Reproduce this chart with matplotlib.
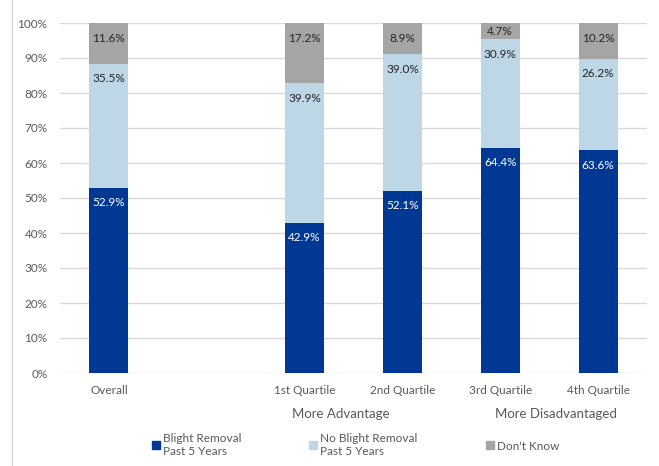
import numpy as np
import matplotlib.pyplot as plt
from matplotlib.lines import Line2D

plt.rcParams["font.family"] = ["Lato", "DejaVu Sans"]

# categories (empty slot between Overall and the quartiles)
categories = ["Overall", "", "1st Quartile", "2nd Quartile", "3rd Quartile", "4th Quartile"]
removal = [52.9, np.nan, 42.9, 52.1, 64.4, 63.6]
no_removal = [35.5, np.nan, 39.9, 39.0, 30.9, 26.2]
dont_know = [11.6, np.nan, 17.2, 8.9, 4.7, 10.2]
series_names = ["Blight Removal\nPast 5 Years", "No Blight Removal\nPast 5 Years", "Don't Know"]
series_colors = ["#003893", "#bdd7e7", "#a5a5a5"]
label_colors = ["white", "#262626", "#262626"]
groups = ["More Advantage", "More Disadvantaged"]
group_pos = [2.37, 4.57]

W, H = 659, 466
fig = plt.figure(figsize=(W / 100, H / 100), dpi=100)
ax = fig.add_axes([60 / W, (H - 373) / H, 587 / W, 350 / H])

x = np.arange(len(categories))
bottom = np.zeros(len(categories))
px_per_pct = 350 / 100
for vals, col, lcol in zip([removal, no_removal, dont_know], series_colors, label_colors):
    vals = np.array(vals, dtype=float)
    ax.bar(x, np.nan_to_num(vals), 0.4, bottom=bottom, color=col, zorder=2)
    for xi, b, v in zip(x, bottom, vals):
        if np.isnan(v):
            continue
        top = b + v
        off = min(15 / px_per_pct, v / 2)
        ax.text(xi, top - off, f"{v:.1f}%", ha="center", va="center",
                color=lcol, fontsize=8.5)
    bottom = bottom + np.nan_to_num(vals)

ax.set_xlim(-0.5, len(categories) - 0.5)
ax.set_ylim(0, 100)
ax.set_yticks(np.arange(0, 101, 10))
ax.set_yticklabels([f"{t}%" for t in range(0, 101, 10)])
ax.set_xticks(x)
ax.set_xticklabels(categories)
ax.tick_params(length=0, colors="#595959", labelsize=8.5)
ax.tick_params(axis="x", pad=9)
ax.tick_params(axis="y", pad=9)
ax.grid(axis="y", color="#d9d9d9", lw=1, zorder=0)
for s in ax.spines.values():
    s.set_visible(False)

for g, gx in zip(groups, group_pos):
    ax.text(gx, -41 / 350, g, transform=ax.get_xaxis_transform(), ha="center",
            va="center", color="#595959", fontsize=9.5)

handles = [Line2D([], [], marker="s", ls="", color=c, markersize=6) for c in series_colors]
fig.legend(handles, series_names, ncol=3, loc="center left",
           bbox_to_anchor=(139 / W, 1 - 445 / H), frameon=False, fontsize=8.5,
           labelcolor="#595959", handletextpad=0.1, columnspacing=5.6,
           handlelength=1.0)

fig.add_artist(Line2D([12 / W, 12 / W], [0, 1], color="#d9d9d9", lw=1))

fig.savefig("out.png", dpi=100)
